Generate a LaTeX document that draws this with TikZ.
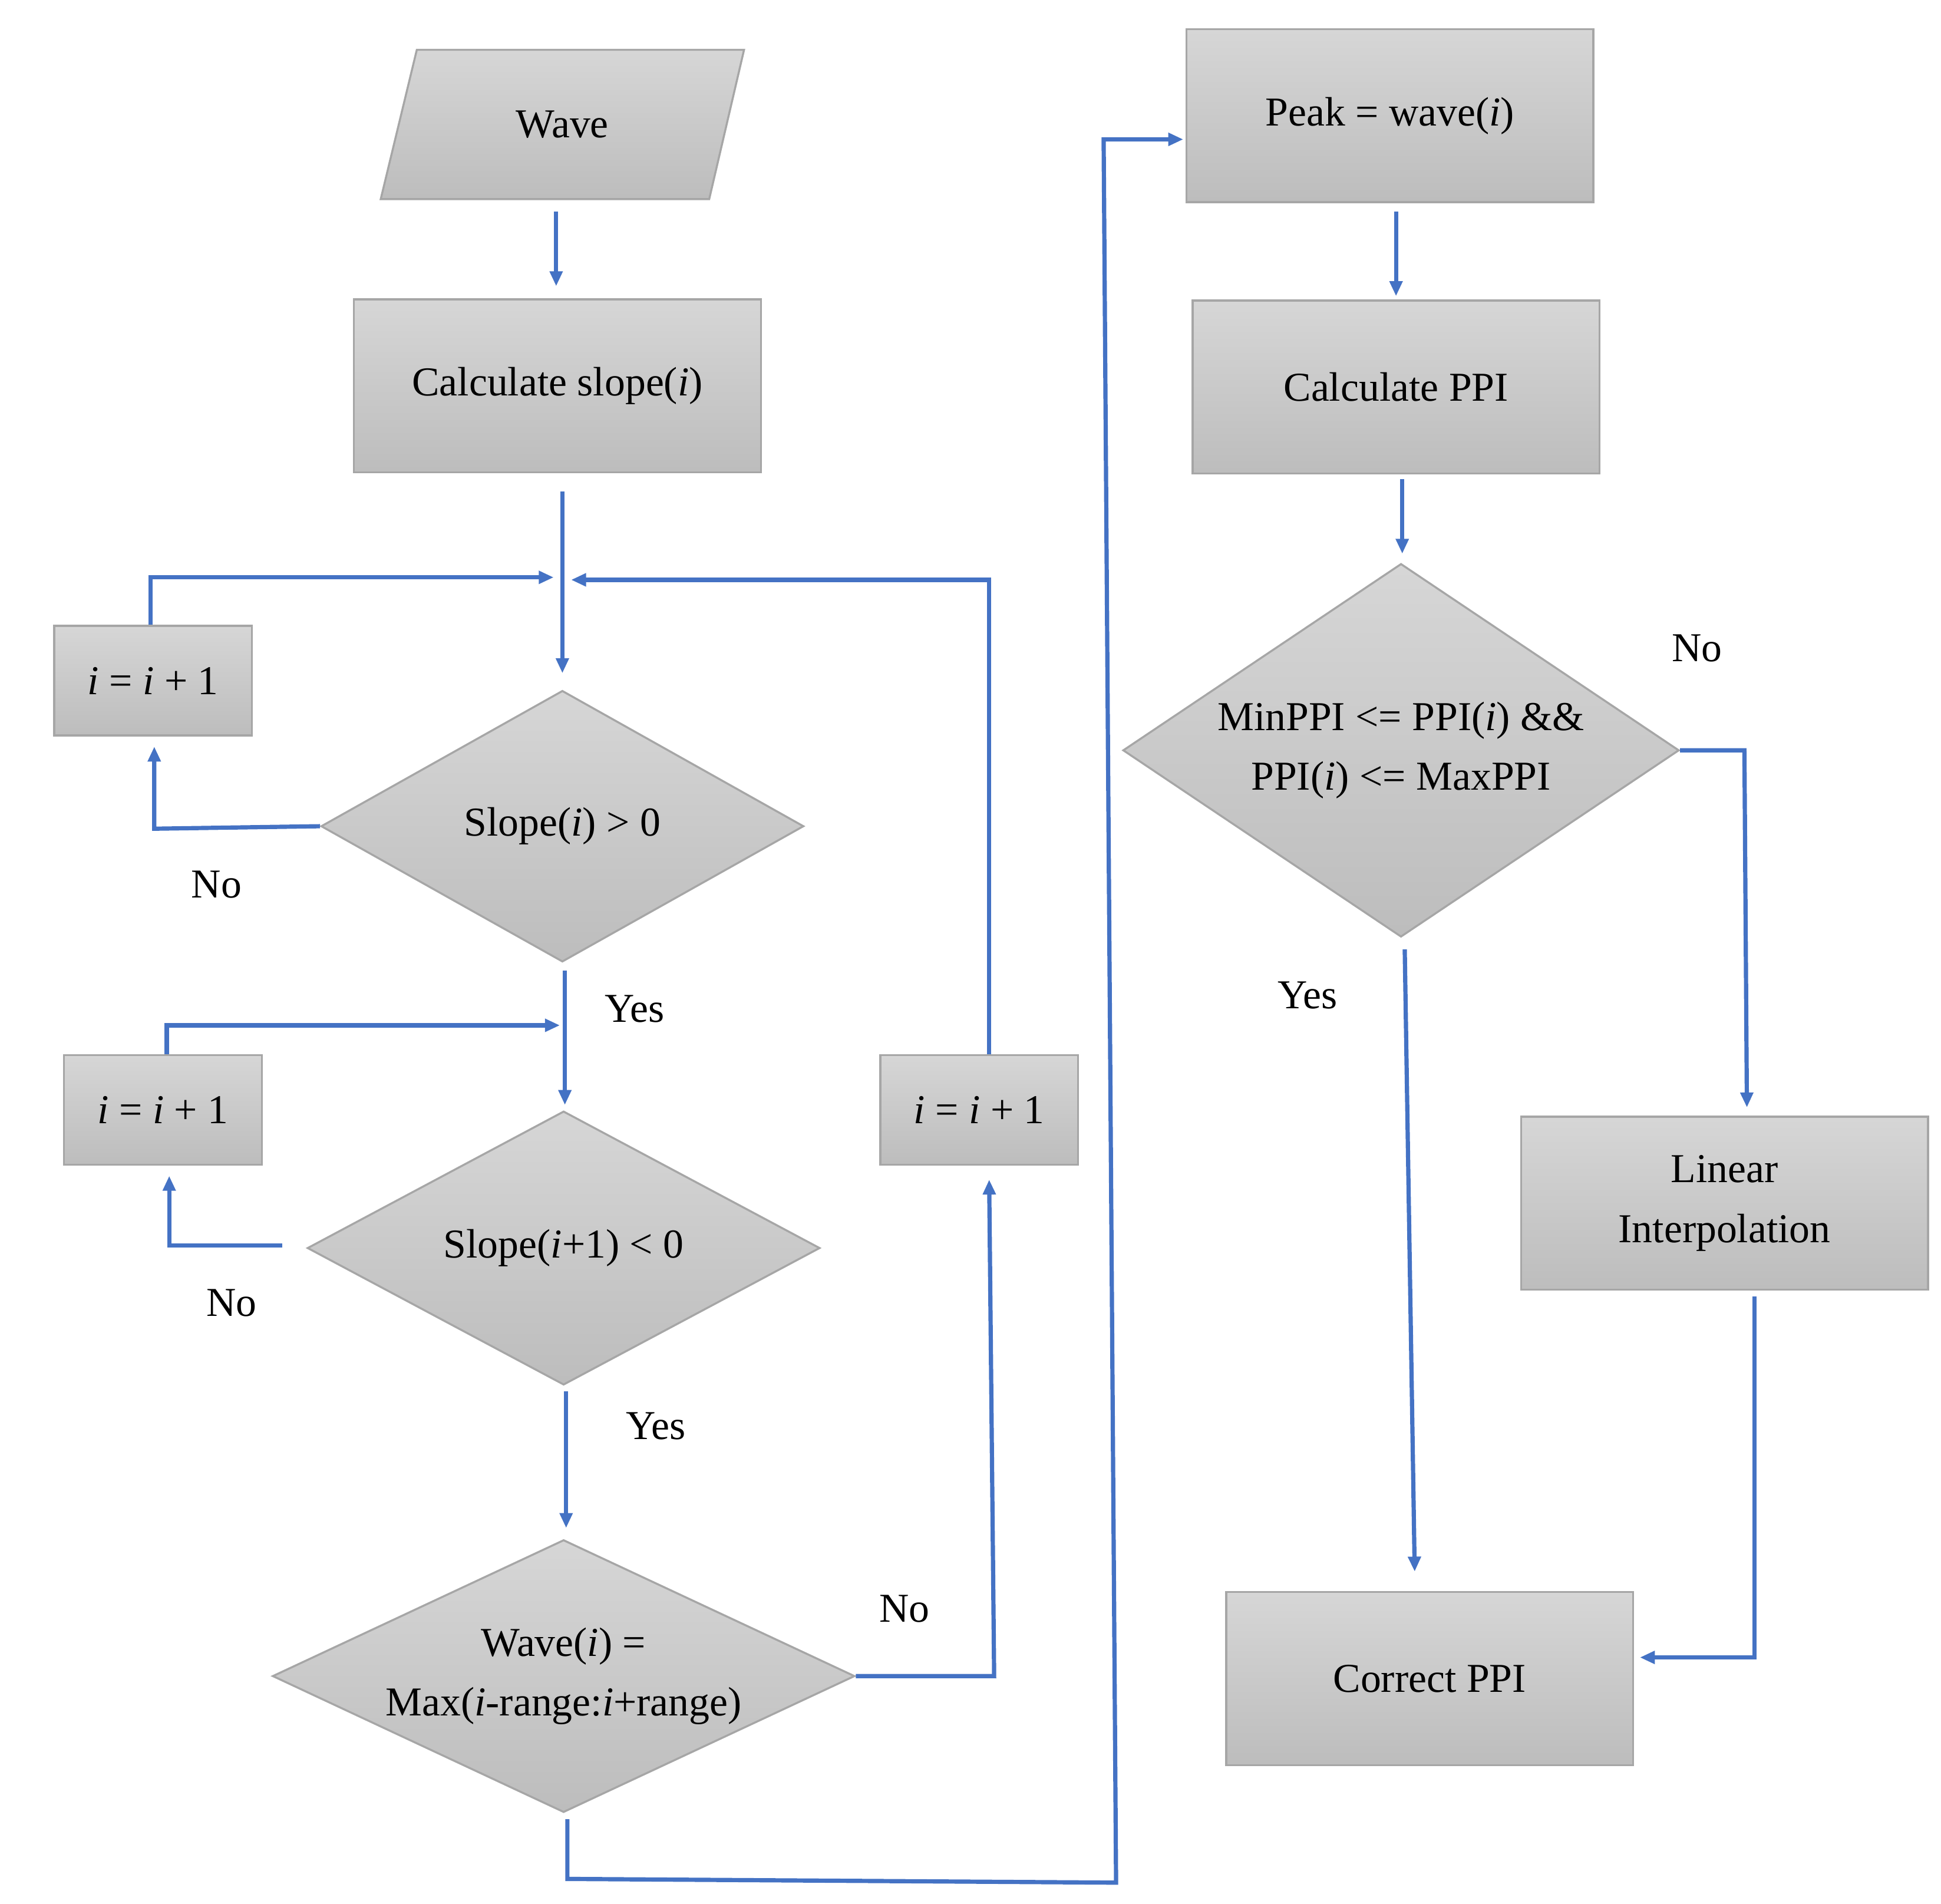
\documentclass[tikz,border=0pt]{standalone}
\usepackage{fontspec}
\setmainfont{Liberation Serif}
\usetikzlibrary{shapes.geometric,arrows.meta}
\newcommand{\incr}{\textit{i} = \textit{i} + 1}
\begin{document}
\begin{tikzpicture}[x=0.5pt,y=-0.5pt,
  every node/.style={font=\fontsize{16.5}{24}\selectfont},
  fillg/.style={draw=black!35,line width=0.8pt,top color=black!16,bottom color=black!26},
  box/.style={fillg,rectangle,minimum width=163.5pt,minimum height=69.5pt,inner sep=0pt,align=center},
  sbox/.style={fillg,rectangle,minimum width=79.5pt,minimum height=44pt,inner sep=0pt},
  dia/.style={fillg,diamond,inner sep=0pt},
  txt/.style={align=center},
  con/.style={draw={rgb,255:red,68;green,114;blue,196},line width=1.7pt,-{Triangle[length=6pt,width=5pt]}},
  lbl/.style={font=\fontsize{16.5}{20}\selectfont}]
\useasboundingbox (0,0) rectangle (1560,1530);
% wave parallelogram
\filldraw[fillg] (335,40) -- (598,40) -- (570,160) -- (306,160) -- cycle;
\node[txt] (wave) at (452,100) {Wave};
\coordinate (waveb) at (447,170);
\node[box] (slope) at (448,310) {Calculate slope(\textit{i})};
\node[sbox] (inc1) at (123,547) {\incr};
\node[dia,minimum width=194pt,minimum height=109pt] (d1) at (452,664) {};
\node[txt] at (d1) {Slope(\textit{i}) > 0};
\node[sbox] (inc2) at (131,892) {\incr};
\node[dia,minimum width=206pt,minimum height=110pt] (d2) at (453,1003) {};
\node[txt] at (d2) {Slope(\textit{i}+1) < 0};
\node[dia,minimum width=234pt,minimum height=109.5pt] (d3) at (453,1347) {};
\node[txt] at (d3) {Wave(\textit{i}) =\\Max(\textit{i}-range:\textit{i}+range)};
\node[sbox] (inc3) at (787,892) {\incr};
\node[box] (peak) at (1117,93) {Peak = wave(\textit{i})};
\node[box] (ppi) at (1122,311) {Calculate PPI};
\node[dia,minimum width=223.5pt,minimum height=150pt] (d4) at (1126,603) {};
\node[txt] at (d4) {MinPPI <= PPI(\textit{i}) \&\&\\PPI(\textit{i}) <= MaxPPI};
\node[box] (lin) at (1386,967) {Linear\\Interpolation};
\node[box] (cor) at (1149,1349) {Correct PPI};
% connectors
\draw[con] (waveb) -- (447,230);
\draw[con] (452,395) -- (452,541);
\draw[con] (inc1.north -| 121,0) -- (121,464) -- (445,464);
\draw[con] (inc3.north -| 795,0) -- (795,466) -- (459,466);
\draw[con] (d1.west) -- (124,666) -- (124,600);
\draw[con] (454,780) -- (454,888);
\draw[con] (inc2.north -| 134,0) -- (134,824) -- (450,824);
\draw[con] (227,1001) -- (136,1001) -- (136,945);
\draw[con] (455,1118) -- (455,1228);
\draw[con] (d3.east) -- (799,1347) -- (795,948);
\draw[con] (456,1462) -- (456,1510) -- (897,1513) -- (887,112) -- (951,112);
\draw[con] (1122,170) -- (1122,238);
\draw[con] (1127,385) -- (1127,445);
\draw[con] (d4.east) -- (1402,603) -- (1404,890);
\draw[con] (1129,763) -- (1137,1263);
\draw[con] (1410,1042) -- (1410,1332) -- (1318,1332);
% labels
\node[lbl] at (174,711) {No};
\node[lbl] at (510,811) {Yes};
\node[lbl] at (186,1047) {No};
\node[lbl] at (527,1146) {Yes};
\node[lbl] at (727,1293) {No};
\node[lbl] at (1364,521) {No};
\node[lbl] at (1051,800) {Yes};
\end{tikzpicture}
\end{document}
